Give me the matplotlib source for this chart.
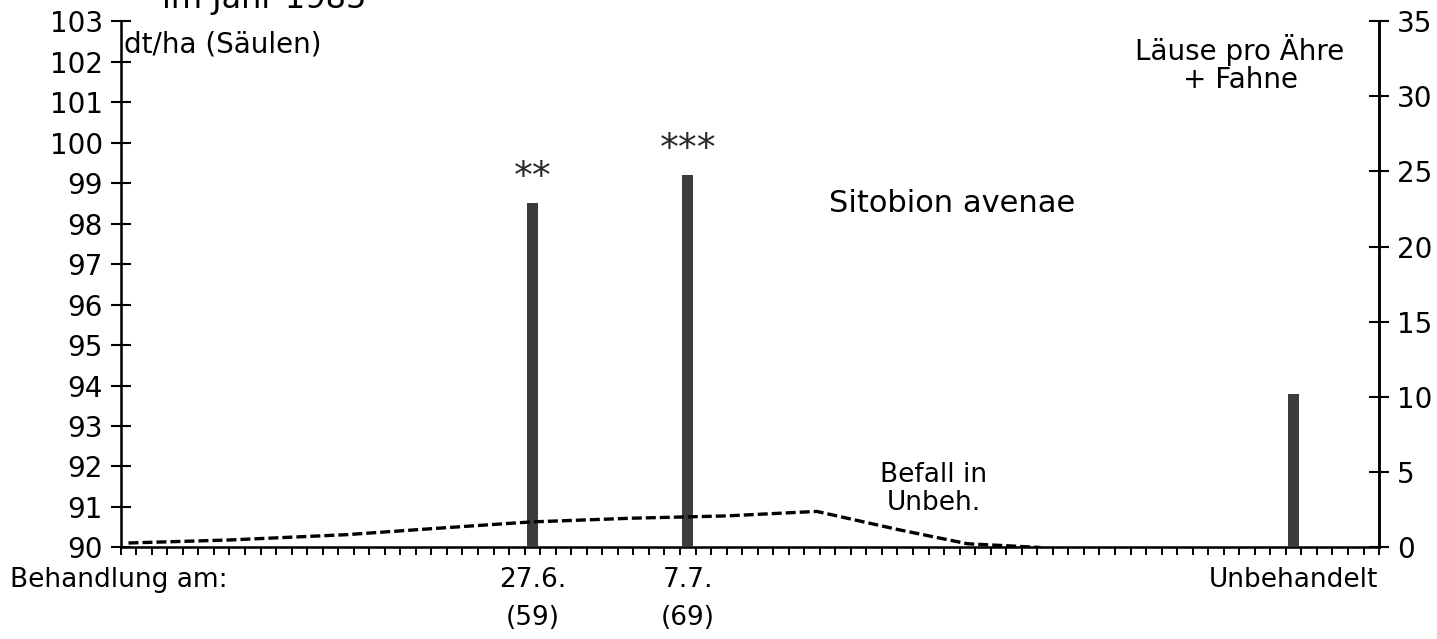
import numpy as np
import matplotlib
matplotlib.use("Agg")
import matplotlib.pyplot as plt

plt.rcParams['font.family'] = ['DejaVu Sans']

# Yield per treatment (dt/ha), drawn as columns on a day axis starting 1 June
treatment_day = [26.5, 36.5, 75.5]
treatment_labels = ["27.6.\n(59)", "7.7.\n(69)", "Unbehandelt"]
yield_dt_ha = [98.5, 99.2, 93.8]
significance = ["**", "***", ""]

# Aphid infestation in the untreated plot (lice per ear + flag leaf)
aphid_day = [0.5, 7, 14.5, 20, 26.4, 33, 39, 44.8, 50, 54.5, 59.2]
aphid_count = [0.3, 0.5, 0.85, 1.25, 1.7, 1.95, 2.1, 2.4, 1.2, 0.25, 0.0]

yield_ticks = list(range(90, 104))
aphid_ticks = list(range(0, 36, 5))
n_days = 81

fig = plt.figure(figsize=(14.37, 6.39), dpi=100)
ax = fig.add_axes([0.084, 0.1432, 0.8757, 0.8239])

ax.bar(treatment_day, np.array(yield_dt_ha) - 90, bottom=90, width=0.7,
       color='#3c3c3c', zorder=3)
for d, y, s in zip(treatment_day, yield_dt_ha, significance):
    if s:
        ax.text(d, y + 0.38, s, ha='center', va='baseline', fontsize=27,
                color='#2a2a2a')

ax.set_xlim(0, n_days)
ax.set_ylim(90, 103)
ax.set_yticks(yield_ticks)
ax.set_yticklabels([str(v) for v in yield_ticks], fontsize=20)
ax.tick_params(axis='y', direction='inout', length=14, width=1.5, pad=6)
ax.set_xticks(treatment_day)
ax.set_xticklabels(treatment_labels, fontsize=19, linespacing=1.6,
                   va='top')
ax.tick_params(axis='x', which='major', length=0, pad=14)
ax.set_xticks(np.arange(0, n_days + 1), minor=True)
ax.tick_params(axis='x', which='minor', direction='out', length=6, width=1.4)
ax.spines['top'].set_visible(False)
for side in ['left', 'right', 'bottom']:
    ax.spines[side].set_linewidth(1.8)

ax2 = ax.twinx()
ax2.set_ylim(0, 35)
ax2.set_yticks(aphid_ticks)
ax2.set_yticklabels([str(v) for v in aphid_ticks], fontsize=20)
ax2.tick_params(axis='y', direction='inout', length=14, width=1.5, pad=6)
ax2.spines['top'].set_visible(False)
ax2.spines['right'].set_linewidth(1.8)
ax2.plot(aphid_day, aphid_count, color='black', lw=2.4,
         linestyle=(0, (3, 1.2)), zorder=4)

ax.text(0.003, 0.955, "dt/ha (Säulen)", transform=ax.transAxes,
        fontsize=20, ha='left', va='center')
ax.text(0.8895, 0.918, "Läuse pro Ähre\n+ Fahne", transform=ax.transAxes,
        fontsize=20, ha='center', va='center', linespacing=1.0)
ax.text(0.661, 0.654, "Sitobion avenae", transform=ax.transAxes,
        fontsize=22, ha='center', va='center')
ax.text(0.646, 0.112, "Befall in\nUnbeh.", transform=ax.transAxes,
        fontsize=19, ha='center', va='center', linespacing=1.1)
fig.text(0.007, 0.092, "Behandlung am:", fontsize=19, ha='left',
         va='center')
fig.text(0.113, 0.9875, "im Jahr 1985", fontsize=23, ha='left',
         va='baseline')

fig.savefig("out.png", dpi=100)
